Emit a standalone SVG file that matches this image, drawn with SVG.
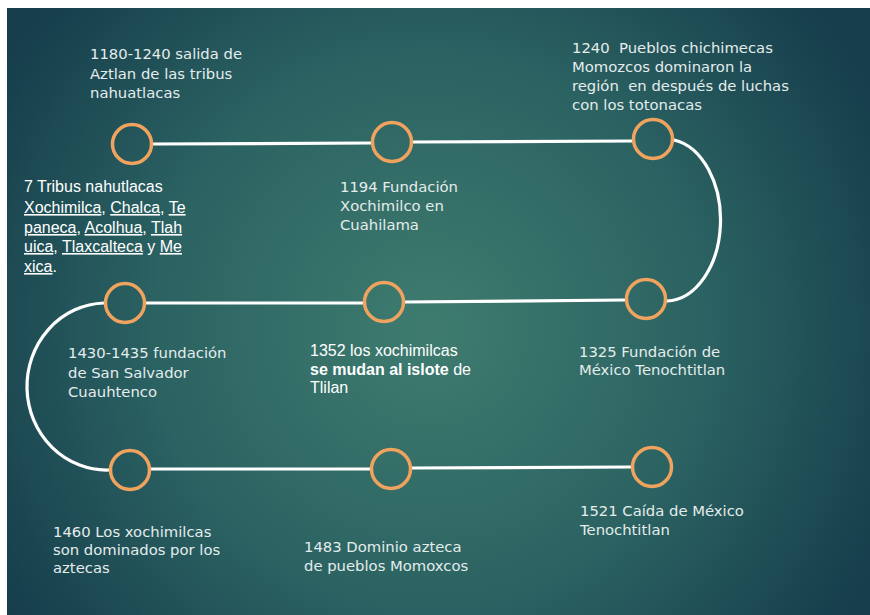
<svg xmlns="http://www.w3.org/2000/svg" width="870" height="615" viewBox="0 0 870 615">
<defs>
<radialGradient id="bg" cx="430" cy="330" r="500" gradientUnits="userSpaceOnUse">
<stop offset="0" stop-color="#3f7c6f"/>
<stop offset="0.55" stop-color="#2b6262"/>
<stop offset="1" stop-color="#163e4c"/>
</radialGradient>
<style>
.dot{fill:none;stroke:#f0a35e;stroke-width:3.5}
.path{fill:none;stroke:#ffffff;stroke-width:3.2;stroke-linecap:round}
.g{font-family:"DejaVu Sans","Liberation Sans",sans-serif;font-size:14.8px;fill:#e4ecec;white-space:pre}
.a{font-family:"Liberation Sans",Arial,sans-serif;font-size:16px;fill:#ffffff}
.u{text-decoration:underline}
.b{font-weight:bold}
</style>
</defs>
<rect x="0" y="0" width="870" height="615" fill="#ffffff"/>
<rect x="7" y="8" width="863" height="607" fill="url(#bg)"/>
<g id="connectors">
<path class="path" d="M153 144 L371 143 M413 142 L632 141"/>
<path class="path" d="M674 140 A55 81 0 0 1 667 301"/>
<path class="path" d="M625 300 L405 302 M363 303 L146 303"/>
<path class="path" d="M104 303 A79 83 0 0 0 109 470"/>
<path class="path" d="M151 469 L370 469 M412 468 L631 467"/>
</g>
<g id="n1"><circle class="dot" cx="132" cy="144" r="19.5"/>
<text class="g" x="90" y="59">1180-1240 salida de<tspan x="90" y="79">Aztlan de las tribus</tspan><tspan x="90" y="98">nahuatlacas</tspan></text></g>
<g id="n2"><circle class="dot" cx="392" cy="142" r="19.5"/>
<text class="g" x="340" y="192">1194 Fundación<tspan x="340" y="211">Xochimilco en</tspan><tspan x="340" y="230">Cuahilama</tspan></text></g>
<g id="n3"><circle class="dot" cx="653" cy="139" r="19.5"/>
<text class="g" xml:space="preserve" x="572" y="53">1240  Pueblos chichimecas<tspan x="572" y="72">Momozcos dominaron la</tspan><tspan x="572" y="91">región  en después de luchas</tspan><tspan x="572" y="110">con los totonacas</tspan></text></g>
<g id="tribus">
<text class="a" x="24" y="192">7 Tribus nahutlacas<tspan x="24" y="213"><tspan class="u">Xochimilca</tspan>, <tspan class="u">Chalca</tspan>, <tspan class="u">Te</tspan></tspan><tspan x="24" y="233"><tspan class="u">paneca</tspan>, <tspan class="u">Acolhua</tspan>, <tspan class="u">Tlah</tspan></tspan><tspan x="24" y="252"><tspan class="u">uica</tspan>, <tspan class="u">Tlaxcalteca</tspan> y <tspan class="u">Me</tspan></tspan><tspan x="24" y="272"><tspan class="u">xica</tspan>.</tspan></text></g>
<g id="n4"><circle class="dot" cx="646" cy="299" r="19.5"/>
<text class="g" x="579" y="357">1325 Fundación de<tspan x="579" y="375">México Tenochtitlan</tspan></text></g>
<g id="n5"><circle class="dot" cx="384" cy="302" r="19.5"/>
<text class="a" x="310" y="356">1352 los xochimilcas<tspan x="310" y="375"><tspan class="b">se mudan al islote</tspan> de</tspan><tspan x="310" y="393">Tlilan</tspan></text></g>
<g id="n6"><circle class="dot" cx="125" cy="303" r="19.5"/>
<text class="g" x="68" y="358">1430-1435 fundación<tspan x="68" y="378">de San Salvador</tspan><tspan x="68" y="397">Cuauhtenco</tspan></text></g>
<g id="n7"><circle class="dot" cx="130" cy="470" r="19.5"/>
<text class="g" x="53" y="537">1460 Los xochimilcas<tspan x="53" y="555">son dominados por los</tspan><tspan x="53" y="573">aztecas</tspan></text></g>
<g id="n8"><circle class="dot" cx="391" cy="469" r="19.5"/>
<text class="g" x="304" y="552">1483 Dominio azteca<tspan x="304" y="571">de pueblos Momoxcos</tspan></text></g>
<g id="n9"><circle class="dot" cx="652" cy="467" r="19.5"/>
<text class="g" x="580" y="516">1521 Caída de México<tspan x="580" y="535">Tenochtitlan</tspan></text></g>
</svg>
